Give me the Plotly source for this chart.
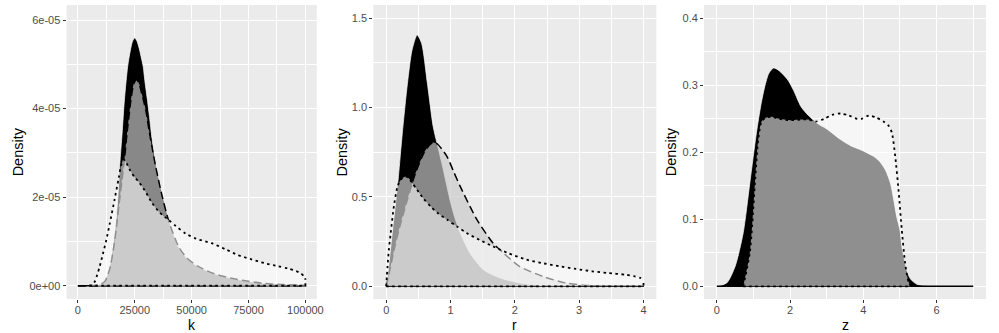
import plotly.graph_objects as go

# ---------------- data ----------------
# Panel 1 : k  (densities in units of 1e-5)
k_A = [0, 5000, 8000, 10000, 12000, 14000, 16000, 17000, 17800, 18550, 19430, 20430, 21870, 23000, 24000, 25000,
       26000, 27000, 28000, 28700, 29500, 30570, 31500, 32500, 34200, 37100, 40000, 44300, 48000, 53000, 60000,
       67500, 75000, 82000, 90000, 100000]
dens_k_A = [0, 0.003, 0.01, 0.03, 0.12, 0.42, 1.1, 1.6, 2.2, 2.84, 3.44, 4.19, 4.95, 5.3, 5.52, 5.6,
            5.52, 5.35, 5.12, 4.95, 4.6, 4.19, 3.8, 3.35, 2.74, 2.05, 1.47, 0.86, 0.61, 0.42, 0.265,
            0.165, 0.097, 0.048, 0.024, 0.008]
k_B = [0, 5000, 8000, 10000, 12000, 14000, 16000, 17000, 18000, 19300, 20430, 21590, 22500, 23300, 24500, 25800,
       27000, 28000, 29000, 30000, 31300, 32500, 34200, 37100, 40000, 44300, 48000, 53000, 60000, 67500, 75000,
       82000, 90000, 100000]
dens_k_B = [0, 0.002, 0.01, 0.03, 0.11, 0.38, 0.95, 1.35, 1.8, 2.35, 2.84, 3.44, 3.85, 4.19, 4.55, 4.65,
            4.55, 4.35, 4.15, 3.92, 3.5, 3.15, 2.69, 2.01, 1.45, 0.88, 0.62, 0.43, 0.27, 0.17, 0.1,
            0.05, 0.025, 0.01]
k_D = [5000, 6000, 7400, 8500, 9570, 11000, 12480, 14000, 16100, 18000, 19000, 20000, 21000, 23000, 25000,
       27000, 30000, 32700, 36000, 40000, 43000, 47300, 52000, 58800, 65000, 70400, 76000, 82000, 88000, 92200,
       96000, 98000, 99700, 100000]
dens_k_D = [0, 0.01, 0.09, 0.25, 0.43, 0.72, 1.03, 1.4, 1.94, 2.45, 2.72, 2.85, 2.8, 2.6, 2.45,
            2.33, 2.1, 1.86, 1.65, 1.48, 1.35, 1.18, 1.06, 0.96, 0.82, 0.69, 0.6, 0.51, 0.44, 0.39,
            0.33, 0.28, 0.19, 0.15]

# Panel 2 : r
r_A = [0, 0.02, 0.05, 0.1, 0.15, 0.19, 0.25, 0.33, 0.4, 0.48, 0.55, 0.64, 0.73, 0.79, 0.87, 0.944, 1.0,
       1.07, 1.15, 1.3, 1.51, 1.77, 2.07, 2.4, 3.0, 4.0]
dens_r_A = [0, 0.05, 0.15, 0.32, 0.48, 0.615, 0.857, 1.136, 1.32, 1.406, 1.36, 1.136, 0.894, 0.8, 0.68, 0.559,
            0.47, 0.38, 0.3, 0.187, 0.093, 0.047, 0.019, 0.005, 0.0005, 0]
r_B = [0, 0.046, 0.123, 0.2, 0.328, 0.456, 0.585, 0.67, 0.73, 0.8, 0.945, 1.05, 1.15, 1.41, 1.66, 1.82,
       2.07, 2.43, 2.79, 3.2, 3.5, 4.0]
dens_r_B = [0, 0.075, 0.205, 0.32, 0.484, 0.634, 0.745, 0.79, 0.805, 0.795, 0.726, 0.64, 0.559, 0.373, 0.242,
            0.187, 0.112, 0.056, 0.019, 0.003, 0.0005, 0]
r_D = [0, 0.01, 0.02, 0.04, 0.07, 0.12, 0.17, 0.2, 0.25, 0.3, 0.35, 0.4, 0.48, 0.58, 0.69, 0.8, 0.95, 1.1,
       1.25, 1.45, 1.66, 1.9, 2.18, 2.45, 2.69, 2.95, 3.2, 3.45, 3.72, 3.85, 3.95, 4.0]
dens_r_D = [0, 0.06, 0.11, 0.2, 0.3, 0.45, 0.55, 0.58, 0.605, 0.615, 0.605, 0.58, 0.54, 0.49, 0.447, 0.41,
            0.372, 0.335, 0.298, 0.26, 0.223, 0.185, 0.149, 0.128, 0.112, 0.097, 0.084, 0.074, 0.065, 0.057,
            0.047, 0.035]

# Panel 3 : z
z_A = [0, 0.27, 0.5, 0.72, 0.9, 1.08, 1.2, 1.307, 1.42, 1.55, 1.7, 1.94, 2.1, 2.3, 2.5, 2.75, 3.0, 3.38,
       3.65, 3.92, 4.28, 4.45, 4.6, 4.74, 4.83, 4.91, 5.0, 5.05, 5.12, 5.19, 5.3, 5.46, 5.64, 5.8, 6.5, 7.0]
dens_z_A = [0, 0.005, 0.03, 0.08, 0.154, 0.229, 0.27, 0.298, 0.318, 0.326, 0.322, 0.308, 0.292, 0.268,
            0.255, 0.243, 0.235, 0.219, 0.21, 0.204, 0.194, 0.186, 0.174, 0.154, 0.129, 0.104, 0.084, 0.06,
            0.04, 0.022, 0.01, 0.003, 0.0012, 0.0003, 0, 0]
z_D = [0.72, 0.9, 1.04, 1.13, 1.22, 1.35, 1.5, 1.7, 2.0, 2.3, 2.5, 2.7, 2.93, 3.15, 3.38, 3.6, 3.83, 3.95,
       4.15, 4.35, 4.55, 4.7, 4.78, 4.87, 4.96, 5.05, 5.14, 5.23, 5.3]
dens_z_D = [0, 0.05, 0.154, 0.219, 0.246, 0.252, 0.253, 0.25, 0.248, 0.249, 0.249, 0.246, 0.25, 0.256,
            0.258, 0.255, 0.25, 0.25, 0.255, 0.252, 0.246, 0.239, 0.229, 0.194, 0.144, 0.084, 0.035, 0.007, 0.0]

# tick labels
k_ticks = [0, 25000, 50000, 75000, 100000]
k_ticktext = ["0", "25000", "50000", "75000", "100000"]
k_dens_ticks = [0, 2e-5, 4e-5, 6e-5]
k_dens_ticktext = ["0e+00", "2e-05", "4e-05", "6e-05"]
r_ticks = [0, 1, 2, 3, 4]
r_ticktext = ["0", "1", "2", "3", "4"]
r_dens_ticks = [0, 0.5, 1.0, 1.5]
r_dens_ticktext = ["0.0", "0.5", "1.0", "1.5"]
z_ticks = [0, 2, 4, 6]
z_ticktext = ["0", "2", "4", "6"]
z_dens_ticks = [0, 0.1, 0.2, 0.3, 0.4]
z_dens_ticktext = ["0.0", "0.1", "0.2", "0.3", "0.4"]

# ---------------- styling ----------------
FONT = "Liberation Sans, Arial, sans-serif"
FILL_A = "rgba(0,0,0,1)"
FILL_B = "rgba(200,200,200,0.68)"
FILL_D = "rgba(255,255,255,0.56)"
DASH_B = "8px,4px"
DOT_D = "2.5px,3.5px"

fig = go.Figure()


def add_density(x, y, xa, ya, fill, lcolor, lwidth, dash, base_color):
    fig.add_trace(go.Scatter(x=x, y=y, xaxis=xa, yaxis=ya, mode="lines", fill="tozeroy",
                             fillcolor=fill,
                             line=dict(color=lcolor, width=lwidth, dash=dash, shape="spline", smoothing=0.7),
                             hoverinfo="skip", showlegend=False))
    # bottom / closing edge of the density outline
    fig.add_trace(go.Scatter(x=[x[0], x[-1], x[-1]], y=[0, 0, y[-1]], xaxis=xa, yaxis=ya, mode="lines",
                             line=dict(color=base_color, width=1.5 if dash == "solid" else lwidth, dash=dash),
                             hoverinfo="skip", showlegend=False))


panels = [
    (k_A, [v * 1e-5 for v in dens_k_A], k_B, [v * 1e-5 for v in dens_k_B], k_D, [v * 1e-5 for v in dens_k_D], "x", "y"),
    (r_A, dens_r_A, r_B, dens_r_B, r_D, dens_r_D, "x2", "y2"),
    (z_A, dens_z_A, None, None, z_D, dens_z_D, "x3", "y3"),
]
for xA, yA, xB, yB, xD, yD, xa, ya in panels:
    add_density(xA, yA, xa, ya, FILL_A, "white", 0.7, "solid", "black")
    if xB is not None:
        add_density(xB, yB, xa, ya, FILL_B, "black", 1.5, DASH_B, "black")
    add_density(xD, yD, xa, ya, FILL_D, "black", 1.8, DOT_D, "black")

W, H = 999, 333
ydom = [34 / H, 328 / H]
tickfont = dict(family=FONT, size=11, color="#4D4D4D")


def axis(domain, rng, tv, tt, minor_vals, anchor, standoff=0):
    return dict(domain=domain, range=rng, tickvals=tv, ticktext=tt, anchor=anchor,
                showgrid=True, gridcolor="white", gridwidth=1.1, zeroline=False, showline=False,
                ticks="outside", ticklen=3, tickwidth=1, tickcolor="#333333", tickfont=tickfont,
                ticklabelstandoff=standoff,
                minor=dict(tickvals=minor_vals, showgrid=True, gridcolor="white", gridwidth=0.5, ticks=""),
                fixedrange=True)


fig.update_layout(
    width=W, height=H, margin=dict(l=0, r=0, t=0, b=0),
    paper_bgcolor="white", plot_bgcolor="#EBEBEB",
    font=dict(family=FONT),
    xaxis=axis([67 / W, 319 / W], [-5000, 105000], k_ticks, k_ticktext, [12500, 37500, 62500, 87500], "y", -2),
    yaxis=axis(ydom, [-3.0e-6, 6.34e-5], k_dens_ticks, k_dens_ticktext, [1e-5, 3e-5, 5e-5], "x"),
    xaxis2=axis([376 / W, 661 / W], [-0.2, 4.2], r_ticks, r_ticktext, [0.5, 1.5, 2.5, 3.5], "y2", -2),
    yaxis2=axis(ydom, [-0.071, 1.574], r_dens_ticks, r_dens_ticktext, [0.25, 0.75, 1.25], "x2"),
    xaxis3=axis([709 / W, 993 / W], [-0.35, 7.35], z_ticks, z_ticktext, [1, 3, 5, 7], "y3", -2),
    yaxis3=axis(ydom, [-0.019, 0.42], z_dens_ticks, z_dens_ticktext, [0.05, 0.15, 0.25, 0.35], "x3"),
)

titles_x = [("k", 193), ("r", 518.5), ("z", 851)]
for t, px in titles_x:
    fig.add_annotation(text=t, x=px / W, y=(H - 324.5) / H, xref="paper", yref="paper",
                       xanchor="center", yanchor="middle", showarrow=False,
                       font=dict(family=FONT, size=14, color="black"))
for px in [18.5, 344, 676]:
    fig.add_annotation(text="Density", x=px / W, y=(H - 152) / H, xref="paper", yref="paper",
                       xanchor="center", yanchor="middle", textangle=-90, showarrow=False,
                       font=dict(family=FONT, size=14.5, color="black"))

fig.write_html("out.html")
